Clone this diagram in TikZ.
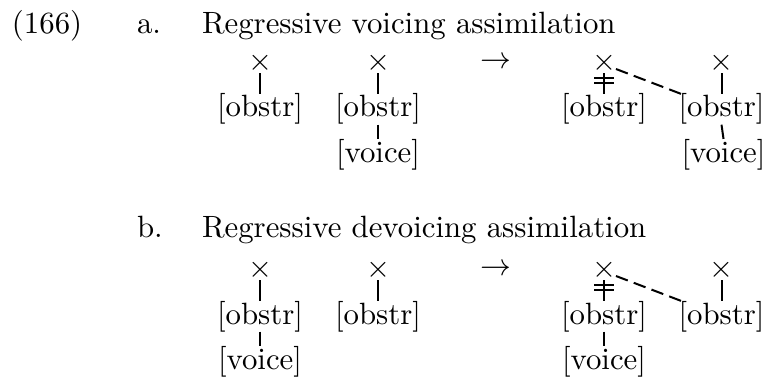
\RequirePackage{fix-cm}
\documentclass[tikz,border=0pt]{standalone}
\usepackage{fontspec}
\setmainfont{lmroman10-regular}[Extension=.otf]
\usetikzlibrary{calc}
\begin{document}
\begin{tikzpicture}[x=1pt,y=-1pt,
  every node/.style={inner sep=0pt,outer sep=0pt,font=\fontsize{30.8}{36}\selectfont},
  seg/.style={anchor=base},
  assoc/.style={line width=2pt},
  newlink/.style={line width=2pt,dash pattern=on 12.6pt off 6.4pt}]
\useasboundingbox (0,0) rectangle (767,377);
% ---------- (a) ----------
\node[anchor=base west] (num) at (12,33.5) {(166)};
\node[anchor=base west] (la) at (137,33.5) {a.};
\node[anchor=base west] (ta) at (202,33.5) {Regressive voicing assimilation};
\node (a1x) at (260,63) {$\times$};
\node[seg] (a1o) at (260,117) {[obstr]};
\node (a2x) at (378,63) {$\times$};
\node[seg] (a2o) at (378,117) {[obstr]};
\node[seg] (a2v) at (378,162) {[voice]};
\node (aarr) at (496,63) {$\rightarrow$};
\node (a3x) at (604,63) {$\times$};
\node[seg] (a3o) at (604,117) {[obstr]};
\node (a4x) at (721.5,63) {$\times$};
\node[seg] (a4o) at (721.5,117) {[obstr]};
\node[seg] (a4v) at (723.5,162) {[voice]};
\draw[assoc] (a1x.south) -- (a1o.north);
\draw[assoc] (a2x.south) -- (a2o.north);
\draw[assoc] (a2o.south) -- (a2v.north);
\draw[assoc] (a3x.south) -- coordinate[pos=.36] (a3m) (a3o.north);
\draw[assoc] ($(a3m)+(-10,-2.5)$) coordinate (a3b1) -- ($(a3m)+(10,-2.5)$) coordinate (a3b2);
\draw[assoc] ($(a3m)+(-10,2.5)$) coordinate (a3b3) -- ($(a3m)+(10,2.5)$) coordinate (a3b4);
\draw[newlink] ($(a3x.east)+(0,6)$) coordinate (a3s) -- ($(a4o.north west)+(2.5,0)$) coordinate (a3e);
\draw[assoc] (a4x.south) -- (a4o.north);
\draw[assoc] (a4o.south) -- (a4v.north);
% ---------- (b) ----------
\node[anchor=base west] (lb) at (137,237) {b.};
\node[anchor=base west] (tb) at (202,237) {Regressive devoicing assimilation};
\node (b1x) at (260,270) {$\times$};
\node[seg] (b1o) at (260,324) {[obstr]};
\node[seg] (b1v) at (260,369) {[voice]};
\node (b2x) at (378,270) {$\times$};
\node[seg] (b2o) at (378,324) {[obstr]};
\node (barr) at (496,270) {$\rightarrow$};
\node (b3x) at (604,270) {$\times$};
\node[seg] (b3o) at (604,324) {[obstr]};
\node[seg] (b3v) at (604,369) {[voice]};
\node (b4x) at (721.5,270) {$\times$};
\node[seg] (b4o) at (721.5,324) {[obstr]};
\draw[assoc] (b1x.south) -- (b1o.north);
\draw[assoc] (b1o.south) -- (b1v.north);
\draw[assoc] (b2x.south) -- (b2o.north);
\draw[assoc] (b3x.south) -- coordinate[pos=.36] (b3m) (b3o.north);
\draw[assoc] ($(b3m)+(-10,-2.5)$) coordinate (b3b1) -- ($(b3m)+(10,-2.5)$) coordinate (b3b2);
\draw[assoc] ($(b3m)+(-10,2.5)$) coordinate (b3b3) -- ($(b3m)+(10,2.5)$) coordinate (b3b4);
\draw[assoc] (b3o.south) -- (b3v.north);
\draw[newlink] ($(b3x.east)+(0,6)$) coordinate (b3s) -- ($(b4o.north west)+(2.5,0)$) coordinate (b3e);
\draw[assoc] (b4x.south) -- (b4o.north);
\end{tikzpicture}
\end{document}
